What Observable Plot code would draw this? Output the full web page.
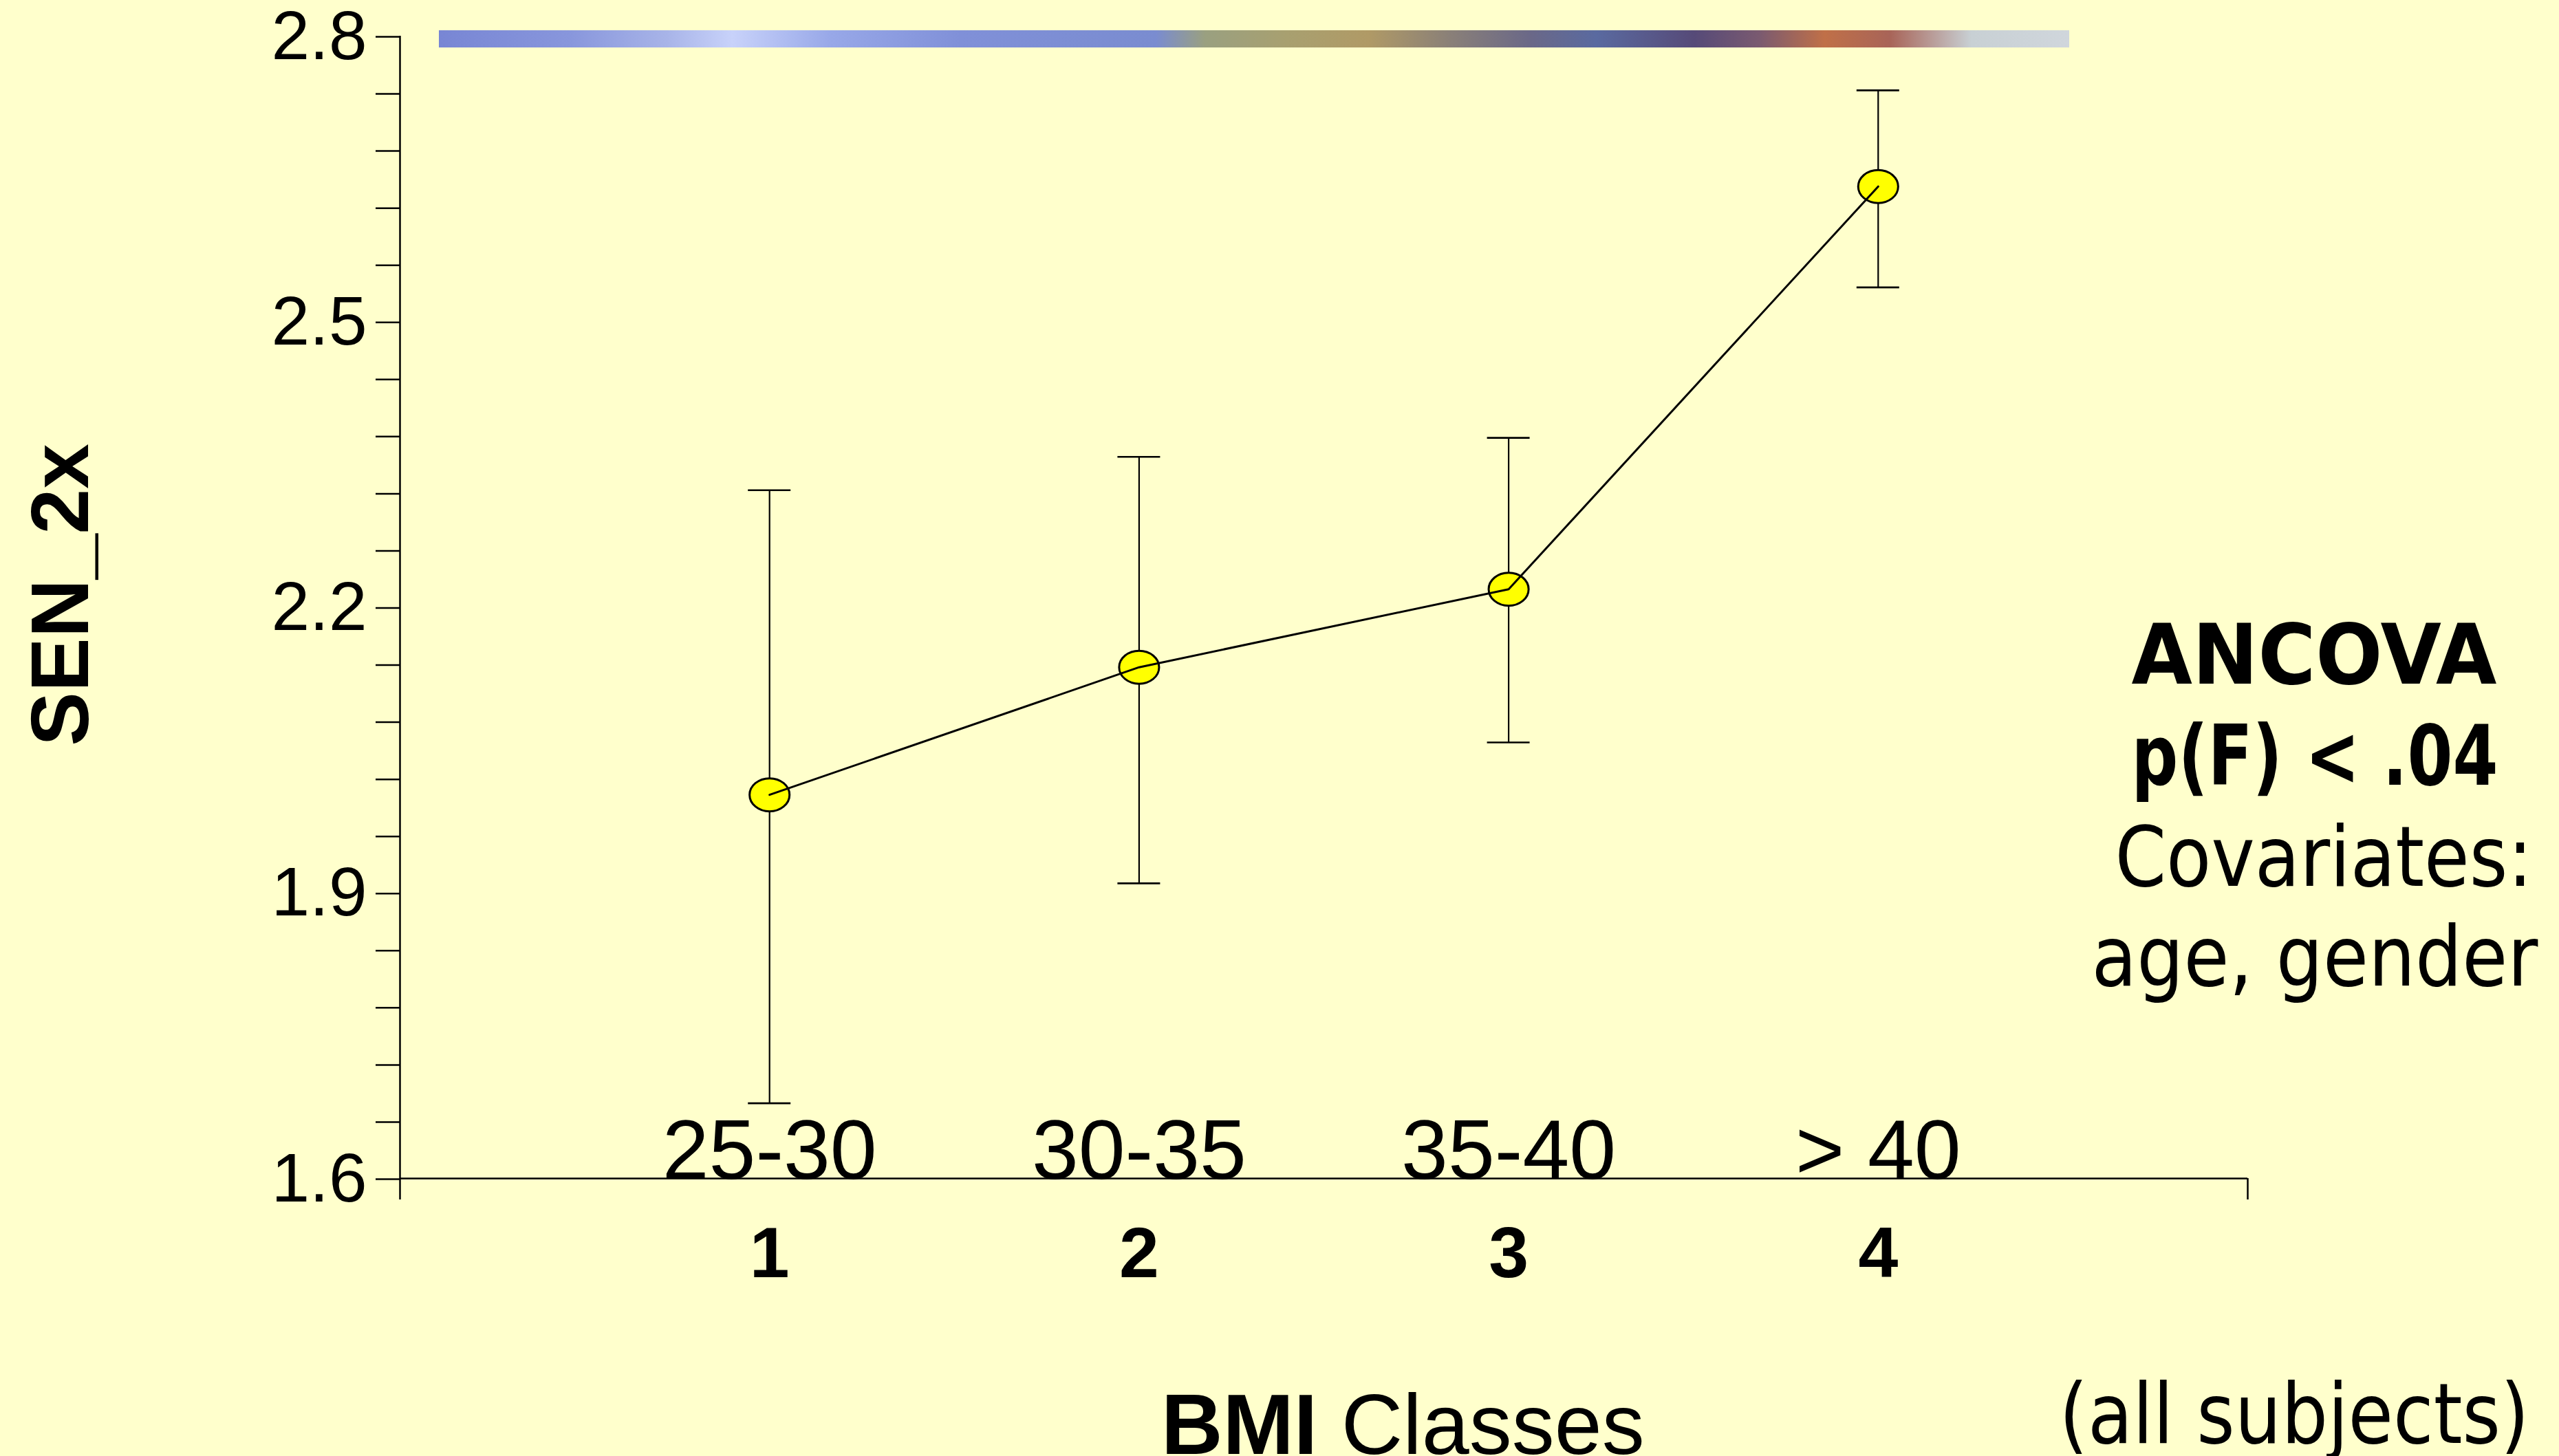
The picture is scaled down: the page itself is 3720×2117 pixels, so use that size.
<!DOCTYPE html>
<html>
<head>
<meta charset="utf-8">
<script src="https://cdn.jsdelivr.net/npm/d3@7"></script>
<script src="https://cdn.jsdelivr.net/npm/@observablehq/plot@0.6"></script>
<style>
  html, body { margin: 0; padding: 0; background: #FFFFCC; }
  #wrap { position: relative; width: 3720px; height: 2117px; overflow: hidden; background: #FFFFCC; }
  #bar { position: absolute; left: 638px; top: 44px; width: 2370px; height: 25px;
    background: linear-gradient(90deg, #7886d4 0%, #8896dc 8%, #a8b4e8 14%, #c8d2fa 18%, #98a8e8 24%, #8090d8 32%, #7a8cd0 44%, #9aa080 47%, #a8a070 52%, #b09a66 57%, #8a8078 62%, #6a6888 67%, #5a6aa0 71%, #564a78 77%, #7a5a70 81%, #c07048 85%, #a86458 89%, #c8d0d4 94%, #d0d6dc 100%); }
  #overlay { position: absolute; left: 0; top: 0; pointer-events: none; }
</style>
</head>
<body>
<div id="wrap">
  <div id="chart"></div>
  <div id="bar"></div>
</div>
<script>
// ---- data ----
const bmiCode  = [1, 2, 3, 4];
const bmiClass = ["25-30", "30-35", "35-40", "> 40"];
const meanSEN  = [2.003, 2.137, 2.219, 2.642];
const lowerSEN = [1.679, 1.910, 2.058, 2.536];
const upperSEN = [2.323, 2.358, 2.378, 2.743];
const yLabelTicks = [1.6, 1.9, 2.2, 2.5, 2.8];
const yMinorStep = 0.06;

const data = bmiCode.map((c, i) => ({code: c, cls: bmiClass[i], mean: meanSEN[i], lo: lowerSEN[i], hi: upperSEN[i]}));
const yTicks = d3.range(0, 21).map(i => +(1.6 + i * yMinorStep).toFixed(2));
const isLabel = v => yLabelTicks.some(t => Math.abs(t - v) < 1e-6);

const W = 3720, H = 2117;
const plot = Plot.plot({
  width: W,
  height: H,
  marginLeft: 581,
  marginRight: 453,
  marginTop: 52,
  marginBottom: 404,
  style: {background: "#FFFFCC", fontFamily: "'Liberation Sans', Arial, sans-serif", color: "black", overflow: "visible"},
  x: {type: "linear", domain: [0, 5], label: null},
  y: {type: "linear", domain: [1.6, 2.8], label: null},
  marks: [
    Plot.axisY({ticks: yTicks, tickSize: 35, tickPadding: 13, strokeWidth: 2.5, fontSize: 100, dy: 1, label: null,
      tickFormat: d => isLabel(d) ? d.toFixed(1) : ""}),
    Plot.axisX({ticks: bmiCode, tickSize: 0, tickPadding: 70, fontSize: 104, fontWeight: "bold", label: null, tickFormat: d => String(d)}),
    // axis lines
    Plot.ruleX([0], {y1: 2.8, y2: 1.6, insetBottom: -31, strokeWidth: 2.5}),
    Plot.ruleX([5], {y1: 1.6, y2: 1.6, insetBottom: -31, strokeWidth: 2.5}),
    Plot.ruleY([1.6], {strokeWidth: 2.5}),
    // category labels
    Plot.text(data, {x: "code", text: "cls", frameAnchor: "bottom", lineAnchor: "bottom", fontSize: 122, dy: 0}),
    // error bars
    Plot.ruleX(data, {x: "code", y1: "hi", y2: "lo", strokeWidth: 2.2}),
    Plot.ruleY(data, {y: "hi", x1: "code", x2: "code", insetLeft: -31, insetRight: -31, strokeWidth: 2.6}),
    Plot.ruleY(data, {y: "lo", x1: "code", x2: "code", insetLeft: -31, insetRight: -31, strokeWidth: 2.6}),
    // markers
    Plot.dot(data, {x: "code", y: "mean", r: 24, fill: "#ffff00", stroke: "black", strokeWidth: 3}),
    // connecting line
    Plot.line(data, {x: "code", y: "mean", stroke: "black", strokeWidth: 3})
  ]
});

// make markers elliptical (wider than tall)
plot.querySelectorAll('g[aria-label="dot"] circle, g[aria-label="dot"] path').forEach(el => {
  el.setAttribute("vector-effect", "non-scaling-stroke");
  if (el.tagName === "circle") {
    const cx = +el.getAttribute("cx"), cy = +el.getAttribute("cy");
    el.setAttribute("transform", `translate(${cx},${cy}) scale(1.21,1) translate(${-cx},${-cy})`);
  } else {
    const t = el.getAttribute("transform") || "";
    el.setAttribute("transform", t + " scale(1.21,1)");
  }
});

document.getElementById("chart").appendChild(plot);

// annotation overlay (real text)
const ns = "http://www.w3.org/2000/svg";
const ov = document.createElementNS(ns, "svg");
ov.setAttribute("id", "overlay");
ov.setAttribute("width", W);
ov.setAttribute("height", H);
document.getElementById("wrap").appendChild(ov);

function addText(str, x, y, opts) {
  const t = document.createElementNS(ns, "text");
  t.setAttribute("x", x);
  t.setAttribute("y", y);
  t.setAttribute("fill", "black");
  t.setAttribute("font-family", opts.family);
  t.setAttribute("font-size", opts.size);
  t.setAttribute("font-weight", opts.weight || "normal");
  t.setAttribute("text-anchor", opts.anchor || "start");
  if (opts.len) { t.setAttribute("textLength", opts.len); t.setAttribute("lengthAdjust", "spacingAndGlyphs"); }
  if (opts.transform) t.setAttribute("transform", opts.transform);
  t.textContent = str;
  ov.appendChild(t);
  return t;
}

const verd = "'DejaVu Sans', Verdana, sans-serif";
addText("SEN_2x", 0, 0, {family: "'Liberation Sans', Arial, sans-serif", size: 118, weight: "bold", anchor: "middle", transform: "translate(128,865) rotate(-90)"});
addText("ANCOVA", 3364, 994, {family: verd, size: 122, weight: "bold", anchor: "middle", len: 531});
addText("p(F) < .04", 3365, 1141, {family: verd, size: 122, weight: "bold", anchor: "middle", len: 533});
addText("Covariates:", 3378, 1288, {family: verd, size: 122, anchor: "middle", len: 607});
addText("age, gender", 3365, 1433, {family: verd, size: 122, anchor: "middle", len: 649});
addText("(all subjects)", 3335, 2098, {family: verd, size: 122, anchor: "middle", len: 683});

// "BMI Classes"
const bmi = document.createElementNS(ns, "text");
bmi.setAttribute("x", 1688);
bmi.setAttribute("y", 2114);
bmi.setAttribute("font-family", "'Liberation Sans', Arial, sans-serif");
bmi.setAttribute("font-size", 124);
bmi.setAttribute("fill", "black");
const t1 = document.createElementNS(ns, "tspan"); t1.setAttribute("font-weight", "bold"); t1.textContent = "BMI";
const t2 = document.createElementNS(ns, "tspan"); t2.textContent = " Classes";
bmi.appendChild(t1); bmi.appendChild(t2);
ov.appendChild(bmi);
</script>
</body>
</html>
